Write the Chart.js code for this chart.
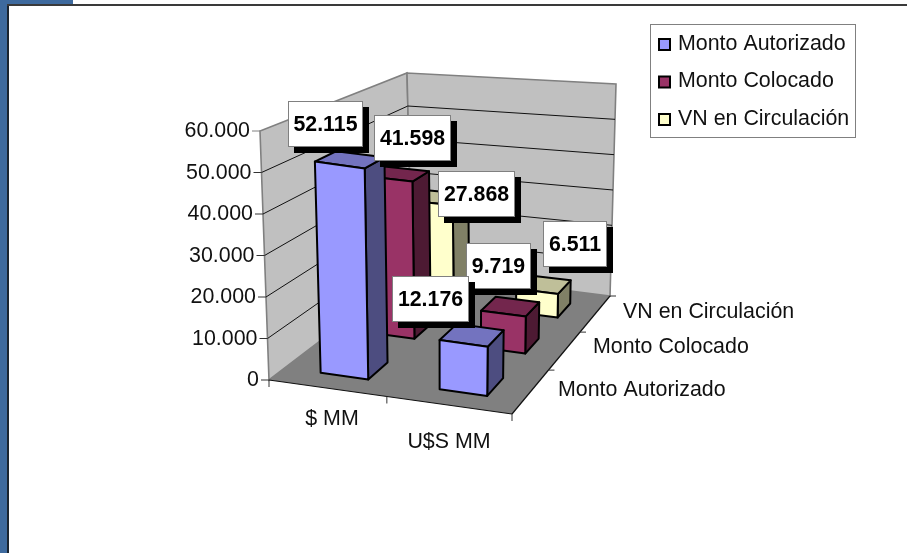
<!DOCTYPE html>
<html>
<head>
<meta charset="utf-8">
<script src="https://cdn.jsdelivr.net/npm/chart.js@4"></script>
<style>
  html, body { margin: 0; background: #fff; overflow: hidden; }
  #wrap { position: relative; width: 907px; height: 553px; }
  canvas { position: absolute; left: 0; top: 0; }
  .edge { position: absolute; }
</style>
</head>
<body>
<div id="wrap">
  <canvas id="myChart" width="907" height="553"></canvas>
  <div class="edge" style="left:0;top:0;width:73px;height:4px;background:#3e6a9e"></div>
  <div class="edge" style="left:0;top:0;width:7px;height:553px;background:#3e6a9e"></div>
  <div class="edge" style="left:7px;top:4px;width:2px;height:549px;background:#1a2430"></div>
  <div class="edge" style="left:7px;top:4px;width:900px;height:2px;background:#3a3a3a"></div>
</div>
<script>
// data
const categories = ['$ MM', 'U$S MM'];
const seriesNames = ['Monto Autorizado', 'Monto Colocado', 'VN en Circulación'];
const montoAutorizado = [52115, 12176];
const montoColocado = [41598, 9719];
const vnCirculacion = [27868, 6511];
const yTicks = [0, 10000, 20000, 30000, 40000, 50000, 60000];
const yTickLabels = ['0', '10.000', '20.000', '30.000', '40.000', '50.000', '60.000'];

const seriesColors = ['#9999ff', '#993366', '#ffffcc'];
const FONT = '"Liberation Sans", Arial, sans-serif';
const TEXT = '#111';

// the 3d frame: where the corners of the box land on the page
const frame = {
  floor: { fl: [269, 380], fr: [512, 414], bl: [412, 271], br: [610, 296] },
  roof: { fl: [260, 131], fr: [516, 168], bl: [407, 73], br: [616, 84] }
};
const depthShare = 0.4; // same gap as the bars get across

// hand placed data labels, moved from the top of each bar
const labelShift = [
  [[-22, -37], [-39.5, -38]],
  [[20, -39], [-8, -45]],
  [[38, -4.5], [32, -42]]
];

function mix(a, b, k) {
  return [a[0] + (b[0] - a[0]) * k, a[1] + (b[1] - a[1]) * k];
}

function project(u, w, t) {
  const f = frame.floor, r = frame.roof;
  const low = mix(mix(f.fl, f.fr, u), mix(f.bl, f.br, u), w);
  const high = mix(mix(r.fl, r.fr, u), mix(r.bl, r.br, u), w);
  return mix(low, high, t);
}

// the middle of the floor sits a bit deeper than a flat mix gives
function persp(w) {
  return w + 0.45 * Math.pow(w, 1.5) * (1 - w) * (1 - w);
}

function shade(hex, k) {
  const n = parseInt(hex.slice(1), 16);
  const c = [n >> 16, (n >> 8) & 255, n & 255].map(v => Math.round(v * k));
  return 'rgb(' + c.join(',') + ')';
}

function poly(ctx, pts, fill, stroke, lw) {
  ctx.beginPath();
  pts.forEach((p, i) => i ? ctx.lineTo(p[0], p[1]) : ctx.moveTo(p[0], p[1]));
  ctx.closePath();
  if (fill) { ctx.fillStyle = fill; ctx.fill(); }
  if (stroke) { ctx.strokeStyle = stroke; ctx.lineWidth = lw; ctx.stroke(); }
}

function segment(ctx, a, b, color, lw) {
  ctx.beginPath();
  ctx.moveTo(a[0], a[1]);
  ctx.lineTo(b[0], b[1]);
  ctx.strokeStyle = color;
  ctx.lineWidth = lw;
  ctx.stroke();
}

function toU(chart, px) {
  return (px - chart.scales.x.left) / chart.scales.x.width;
}
function toT(chart, px) {
  return (chart.scales.y.bottom - px) / chart.scales.y.height;
}
function toW(chart, index) {
  const z = chart.scales.z;
  return (z.getPixelForValue(index) - z.left) / z.width;
}

// bars use the normal bar geometry, only painted as boxes
class Bar3dController extends Chart.BarController {
  draw() {
    const chart = this.chart, ctx = chart.ctx;
    const color = this.getDataset().backgroundColor;
    const wMid = toW(chart, this.index);
    const half = depthShare / seriesNames.length / 2;
    this.getMeta().data.forEach(bar => {
      const p = bar.getProps(['x', 'y', 'width'], true);
      const u0 = toU(chart, p.x - p.width / 2), u1 = toU(chart, p.x + p.width / 2);
      const w0 = persp(wMid - half), w1 = persp(wMid + half);
      const t = toT(chart, p.y);
      ctx.save();
      ctx.lineJoin = 'round';
      poly(ctx, [project(u1, w0, 0), project(u1, w1, 0), project(u1, w1, t), project(u1, w0, t)], shade(color, 0.5), '#000', 2);
      poly(ctx, [project(u0, w0, t), project(u1, w0, t), project(u1, w1, t), project(u0, w1, t)], shade(color, 0.75), '#000', 2);
      poly(ctx, [project(u0, w0, 0), project(u1, w0, 0), project(u1, w0, t), project(u0, w0, t)], color, '#000', 2);
      ctx.restore();
    });
  }
}
Bar3dController.id = 'bar3d';
Bar3dController.defaults = Chart.BarController.defaults;
Chart.register(Bar3dController);

const walls = {
  id: 'walls',
  beforeDatasetsDraw(chart) {
    const ctx = chart.ctx, y = chart.scales.y;
    ctx.save();
    poly(ctx, [project(0, 0, 0), project(0, 1, 0), project(0, 1, 1), project(0, 0, 1)], '#c0c0c0', '#808080', 1.6);
    poly(ctx, [project(0, 1, 0), project(1, 1, 0), project(1, 1, 1), project(0, 1, 1)], '#c0c0c0', '#808080', 1.6);
    yTicks.forEach((v, i) => {
      const t = toT(chart, y.getPixelForValue(v));
      const a = project(0, 0, t), b = project(0, 1, t), c = project(1, 1, t);
      if (i > 0 && i < yTicks.length - 1) {
        segment(ctx, a, b, '#111', 1);
        segment(ctx, b, c, '#111', 1);
      }
      segment(ctx, a, [a[0] - 8, a[1]], i === yTicks.length - 1 ? '#808080' : '#333', 1);
      ctx.font = '21.4px ' + FONT;
      ctx.fillStyle = TEXT;
      ctx.textAlign = 'right';
      ctx.textBaseline = 'middle';
      ctx.fillText(yTickLabels[i], a[0] - 10, a[1] + 0.5);
    });
    poly(ctx, [project(0, 0, 0), project(1, 0, 0), project(1, 1, 0), project(0, 1, 0)], '#808080');
    segment(ctx, project(0, 0, 0), project(1, 0, 0), '#111', 1.2);
    segment(ctx, project(1, 0, 0), project(1, 1, 0), '#111', 1.2);
    // little ticks along the floor
    [0, 0.485, 1].forEach(u => {
      const a = project(u, 0, 0);
      segment(ctx, a, [a[0], a[1] + 7], '#333', 1);
    });
    [1, 2, 3].forEach(n => {
      const a = project(1, persp(n / 3), 0);
      segment(ctx, a, [a[0] + 6, a[1]], '#333', 1);
    });
    // axis texts
    ctx.font = '21.4px ' + FONT;
    ctx.fillStyle = TEXT;
    ctx.textBaseline = 'middle';
    ctx.textAlign = 'center';
    const xPos = [[332, 419], [449, 442]];
    categories.forEach((c, i) => ctx.fillText(c, xPos[i][0], xPos[i][1]));
    ctx.textAlign = 'left';
    const zPos = [[558, 390], [593, 347], [623, 312]];
    seriesNames.forEach((s, i) => ctx.fillText(s, zPos[i][0], zPos[i][1]));
    ctx.restore();
  }
};

const callouts = {
  id: 'callouts',
  afterDatasetsDraw(chart) {
    const ctx = chart.ctx;
    ctx.save();
    ctx.font = 'bold 21.3px ' + FONT;
    ctx.textAlign = 'center';
    ctx.textBaseline = 'middle';
    for (let d = chart.data.datasets.length - 1; d >= 0; d--) {
      chart.getDatasetMeta(d).data.forEach((bar, i) => {
        const val = chart.data.datasets[d].data[i];
        const text = String(val).replace(/(\d)(\d{3})$/, '$1.$2');
        const top = project(toU(chart, bar.x), toW(chart, d), toT(chart, bar.y));
        const cx = top[0] + labelShift[d][i][0], cy = top[1] + labelShift[d][i][1];
        const w = Math.floor(ctx.measureText(text).width) + 12, h = 46;
        const x = Math.round(cx - w / 2), y = Math.round(cy - h / 2);
        ctx.fillStyle = '#000';
        ctx.fillRect(x + 6, y + 6, w, h);
        ctx.fillStyle = '#fff';
        ctx.fillRect(x, y, w, h);
        ctx.strokeStyle = '#808080';
        ctx.lineWidth = 1;
        ctx.strokeRect(x + 0.5, y + 0.5, w - 1, h - 1);
        ctx.fillStyle = '#000';
        ctx.fillText(text, x + w / 2, y + h / 2 + 1);
      });
    }
    ctx.restore();
  }
};

const legendBox = {
  id: 'legendBox',
  afterDraw(chart) {
    const ctx = chart.ctx;
    ctx.save();
    ctx.fillStyle = '#fff';
    ctx.fillRect(650, 24, 206, 114);
    ctx.strokeStyle = '#808080';
    ctx.lineWidth = 1;
    ctx.strokeRect(650.5, 24.5, 205, 113);
    ctx.font = '21.4px ' + FONT;
    ctx.textAlign = 'left';
    ctx.textBaseline = 'middle';
    chart.data.datasets.forEach((ds, i) => {
      const y = 45 + i * 37.5;
      ctx.fillStyle = ds.backgroundColor;
      ctx.fillRect(659, y - 6, 11, 11);
      ctx.strokeStyle = '#000';
      ctx.lineWidth = 2;
      ctx.strokeRect(659, y - 6, 11, 11);
      ctx.fillStyle = TEXT;
      ctx.fillText(ds.label, 678, y - 1);
    });
    ctx.restore();
  }
};

new Chart(document.getElementById('myChart'), {
  type: 'bar3d',
  data: {
    labels: categories,
    datasets: [
      { label: seriesNames[0], data: montoAutorizado, backgroundColor: seriesColors[0], xAxisID: 'x', yAxisID: 'y', clip: false },
      { label: seriesNames[1], data: montoColocado, backgroundColor: seriesColors[1], xAxisID: 'x', yAxisID: 'y', clip: false },
      { label: seriesNames[2], data: vnCirculacion, backgroundColor: seriesColors[2], xAxisID: 'x', yAxisID: 'y', clip: false }
    ]
  },
  options: {
    responsive: false,
    animation: false,
    layout: { padding: { left: 269, right: 395, top: 131, bottom: 173 } },
    datasets: { bar3d: { grouped: false, barPercentage: 0.4, categoryPercentage: 1 } },
    plugins: { legend: { display: false }, tooltip: { enabled: false } },
    scales: {
      x: { type: 'category', offset: true, display: false },
      y: { type: 'linear', min: 0, max: 60000, display: false, ticks: { stepSize: 10000 } },
      z: { type: 'category', axis: 'x', position: 'bottom', labels: seriesNames, offset: true, display: false }
    }
  },
  plugins: [walls, callouts, legendBox]
});
</script>
</body>
</html>
